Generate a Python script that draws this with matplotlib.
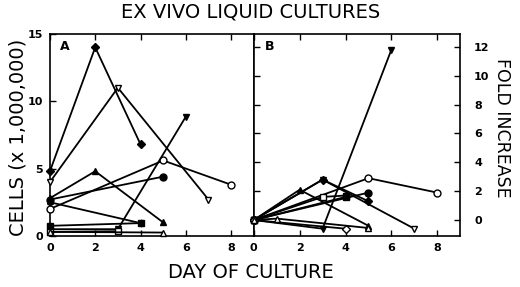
"""
Ex vivo liquid cultures: cell counts (A) and fold increase (B) by day.
"""
import matplotlib
matplotlib.use("Agg")
from matplotlib import pyplot as plt

# Panel A: cells (x 1,000,000) per culture, (days, values)
a_diamond_days = [0, 2, 4]
a_diamond_vals = [4.8, 14.0, 6.8]
a_otri_down_days = [0, 3, 7]
a_otri_down_vals = [4.0, 11.0, 2.7]
a_tri_up_days = [0, 2, 5]
a_tri_up_vals = [2.8, 4.8, 1.0]
a_ocircle_days = [0, 5, 8]
a_ocircle_vals = [2.0, 5.6, 3.8]
a_circle_days = [0, 5]
a_circle_vals = [2.7, 4.4]
a_hex_days = [0, 4]
a_hex_vals = [2.5, 0.95]
a_square_days = [0, 4]
a_square_vals = [0.75, 0.95]
a_tri_down_days = [0, 3, 6]
a_tri_down_vals = [0.5, 0.5, 8.85]
a_osquare_days = [0, 3]
a_osquare_vals = [0.3, 0.35]
a_otri_up_days = [0, 5]
a_otri_up_vals = [0.3, 0.25]

# Panel B: fold increase per culture
b_tri_down_days = [0, 3, 6]
b_tri_down_vals = [0, -0.6, 11.8]
b_ocircle_days = [0, 5, 8]
b_ocircle_vals = [0, 2.9, 1.9]
b_otri_down_days = [0, 3, 7]
b_otri_down_vals = [0, 2.8, -0.6]
b_diamond_days = [0, 3, 5]
b_diamond_vals = [0, 2.8, 1.3]
b_circle_days = [0, 5]
b_circle_vals = [0, 1.9]
b_tri_up_days = [0, 2, 5]
b_tri_up_vals = [0, 2.1, -0.4]
b_osquare_days = [0, 3, 4]
b_osquare_vals = [0, 1.6, 1.7]
b_square_days = [0, 4]
b_square_vals = [0, 1.6]
b_odiamond_days = [0, 4]
b_odiamond_vals = [0, -0.6]
b_otri_up_days = [0, 1, 5]
b_otri_up_vals = [0, 0.1, -0.55]

x_ticks = [0, 2, 4, 6, 8]
a_y_ticks = [0, 5, 10, 15]
b_y_ticks = [0, 2, 4, 6, 8, 10, 12]

# marker style per symbol: (marker, filled)
STYLES = {
    "diamond": ("D", True), "odiamond": ("D", False),
    "tri_up": ("^", True), "otri_up": ("^", False),
    "tri_down": ("v", True), "otri_down": ("v", False),
    "circle": ("o", True), "ocircle": ("o", False),
    "hex": ("h", True),
    "square": ("s", True), "osquare": ("s", False),
}

a_series = [
    ("diamond", a_diamond_days, a_diamond_vals),
    ("otri_down", a_otri_down_days, a_otri_down_vals),
    ("tri_up", a_tri_up_days, a_tri_up_vals),
    ("ocircle", a_ocircle_days, a_ocircle_vals),
    ("circle", a_circle_days, a_circle_vals),
    ("hex", a_hex_days, a_hex_vals),
    ("square", a_square_days, a_square_vals),
    ("tri_down", a_tri_down_days, a_tri_down_vals),
    ("osquare", a_osquare_days, a_osquare_vals),
    ("otri_up", a_otri_up_days, a_otri_up_vals),
]
b_series = [
    ("tri_down", b_tri_down_days, b_tri_down_vals),
    ("ocircle", b_ocircle_days, b_ocircle_vals),
    ("otri_down", b_otri_down_days, b_otri_down_vals),
    ("diamond", b_diamond_days, b_diamond_vals),
    ("circle", b_circle_days, b_circle_vals),
    ("tri_up", b_tri_up_days, b_tri_up_vals),
    ("osquare", b_osquare_days, b_osquare_vals),
    ("square", b_square_days, b_square_vals),
    ("odiamond", b_odiamond_days, b_odiamond_vals),
    ("otri_up", b_otri_up_days, b_otri_up_vals),
]

plt.rcParams['font.family'] = ['DejaVu Sans']

fig = plt.figure(figsize=(5.2, 2.87), dpi=100)
ax_a = fig.add_axes([0.096, 0.178, 0.392, 0.704])
ax_b = fig.add_axes([0.488, 0.178, 0.397, 0.704])


def draw(ax, series):
    for name, days, vals in series:
        marker, filled = STYLES[name]
        size = 5.0 if marker in ("o", "s") else 4.6
        if marker == "D":
            size = 3.8
        ax.plot(days, vals, color='black', lw=1.3, marker=marker, ms=size,
                mfc='black' if filled else 'white', mec='black', mew=1.0,
                clip_on=False, zorder=3)


draw(ax_a, a_series)
draw(ax_b, b_series)

for ax in (ax_a, ax_b):
    ax.set_xlim(0, 9)
    ax.set_xticks(x_ticks)
    ax.set_xticklabels([str(t) for t in x_ticks], fontsize=8, fontweight='bold')
    for s in ax.spines.values():
        s.set_linewidth(1.2)
    ax.tick_params(direction='in', length=4, width=1.0, top=True, pad=5)

ax_a.set_ylim(0, 15)
ax_a.set_yticks(a_y_ticks)
ax_a.set_yticklabels([str(t) for t in a_y_ticks], fontsize=8, fontweight='bold')
ax_a.tick_params(axis='y', left=True, right=False)

ax_b.set_ylim(-1.1, 12.9)
ax_b.set_yticks(b_y_ticks)
ax_b.yaxis.tick_right()
ax_b.set_yticklabels([str(t) for t in b_y_ticks], fontsize=8, fontweight='bold')
ax_b.tick_params(axis='y', left=True, right=True, labelleft=False,
                 labelright=True, direction='in', pad=10)

ax_a.text(0.05, 0.935, "A", transform=ax_a.transAxes, fontsize=9,
          fontweight='bold', va='center')
ax_b.text(0.055, 0.935, "B", transform=ax_b.transAxes, fontsize=9,
          fontweight='bold', va='center')

fig.text(0.482, 0.957, "EX VIVO LIQUID CULTURES", ha='center', va='center',
         fontsize=14)
fig.text(0.483, 0.052, "DAY OF CULTURE", ha='center', va='center', fontsize=14)
fig.text(0.035, 0.52, "CELLS (x 1,000,000)", ha='center', va='center',
         rotation=90, fontsize=14)
fig.text(0.966, 0.554, "FOLD INCREASE", ha='center', va='center',
         rotation=-90, fontsize=12.5)

fig.savefig("out.png", dpi=100)
